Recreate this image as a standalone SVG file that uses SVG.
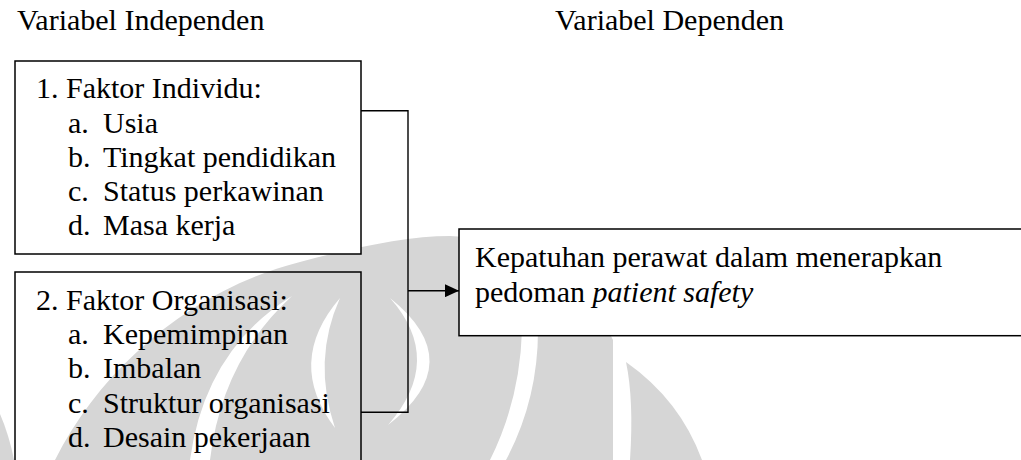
<svg xmlns="http://www.w3.org/2000/svg" width="1021" height="460" viewBox="0 0 1021 460">
  <defs>
    <style>
      .txt { font-family: "Liberation Serif", "Times New Roman", serif; font-size: 30px; fill: #000; }
      .box { fill: none; stroke: #000; stroke-width: 1.5; }
      .box-filled { fill: #fff; stroke: #000; stroke-width: 1.5; }
      .wire { fill: none; stroke: #000; stroke-width: 1.4; }
      .mark { fill: #d6d6d6; }
      .gap { fill: #fff; }
    </style>
    <marker id="arrowhead" viewBox="0 0 14 13" refX="14" refY="6.5" markerWidth="14" markerHeight="13" markerUnits="userSpaceOnUse" orient="auto">
      <path d="M0,0 L14,6.5 L0,13 Z" fill="#000"/>
    </marker>
  </defs>

  <rect width="1021" height="460" fill="#fff"/>

  <!-- faint background emblem -->
  <g id="emblem">
    <path class="mark" d="M55,460 C100,370 190,290 300,262 C360,246 410,236 450,236 C530,240 590,290 613,340 L613,460 Z"/>
    <path class="mark" d="M0,414 C6,428 11,444 14,460 L0,460 Z"/>
    <path class="mark" d="M626,362 Q680,400 702,460 L630,460 Q634,400 626,362 Z"/>
    <path class="gap" d="M292,296 Q205,350 190,460 L210,460 Q222,360 292,296 Z"/>
    <path class="gap" d="M340,298 Q285,362 335,428 Q312,360 340,298 Z"/>
    <path class="gap" d="M390,298 Q470,362 388,425 Q445,360 390,298 Z"/>
    <path class="gap" d="M522,330 Q520,400 490,460 L506,460 Q538,400 538,330 Z"/>
  </g>

  <!-- column headings -->
  <g id="headings">
    <text class="txt" x="17" y="30">Variabel Independen</text>
    <text class="txt" x="555" y="30">Variabel Dependen</text>
  </g>

  <!-- individual factors -->
  <g id="node-individu">
    <rect class="box-filled" x="15" y="61" width="346" height="193"/>
    <text class="txt" x="36" y="98.3">1. Faktor Individu:</text>
    <text class="txt" x="68" y="132.5">a.</text><text class="txt" x="103" y="132.5">Usia</text>
    <text class="txt" x="68" y="166.7">b.</text><text class="txt" x="103" y="166.7">Tingkat pendidikan</text>
    <text class="txt" x="68" y="200.9">c.</text><text class="txt" x="103" y="200.9">Status perkawinan</text>
    <text class="txt" x="68" y="235.1">d.</text><text class="txt" x="103" y="235.1">Masa kerja</text>
  </g>

  <!-- organisational factors -->
  <g id="node-organisasi">
    <rect class="box" x="15" y="272" width="346" height="200"/>
    <text class="txt" x="36" y="310">2. Faktor Organisasi:</text>
    <text class="txt" x="68" y="344.2">a.</text><text class="txt" x="103" y="344.2">Kepemimpinan</text>
    <text class="txt" x="68" y="378.4">b.</text><text class="txt" x="103" y="378.4">Imbalan</text>
    <text class="txt" x="68" y="412.6">c.</text><text class="txt" x="103" y="412.6">Struktur organisasi</text>
    <text class="txt" x="68" y="446.8">d.</text><text class="txt" x="103" y="446.8">Desain pekerjaan</text>
  </g>

  <!-- dependent variable -->
  <g id="node-kepatuhan">
    <rect class="box-filled" x="459" y="229" width="580" height="106.7"/>
    <text class="txt" x="475" y="267">Kepatuhan perawat dalam menerapkan</text>
    <text class="txt" x="475" y="301.5">pedoman <tspan font-style="italic">patient safety</tspan></text>
  </g>

  <!-- bracket joining both factor groups into one arrow -->
  <g id="connectors">
    <polyline class="wire" points="361,110.7 408,110.7 408,412.3 361,412.3"/>
    <line class="wire" x1="408" y1="290.7" x2="459" y2="290.7" marker-end="url(#arrowhead)"/>
  </g>
</svg>
